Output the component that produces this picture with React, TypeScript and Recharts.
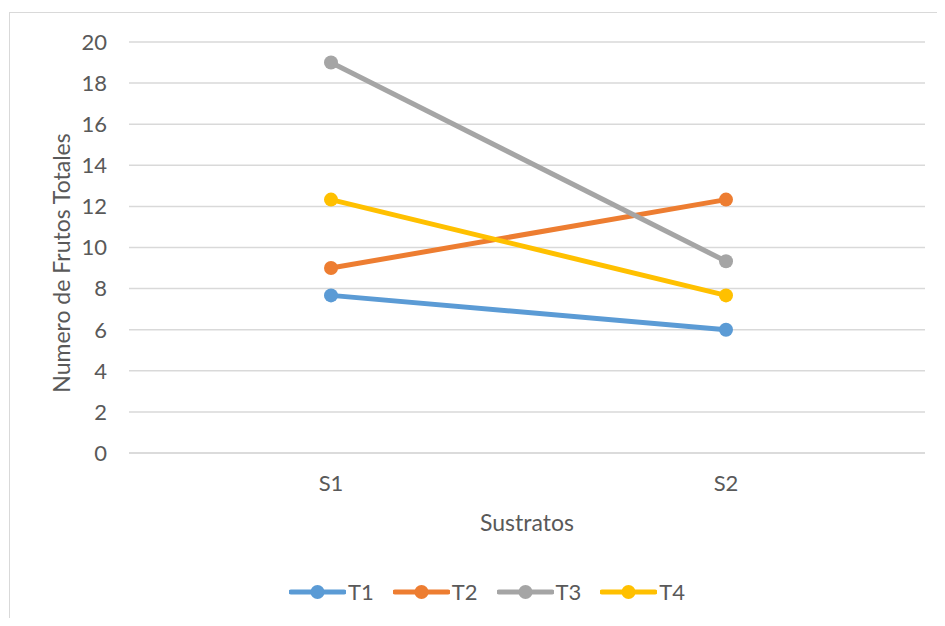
import { CartesianGrid, Label, Line, LineChart, XAxis, YAxis } from 'recharts'

const sustratos = ['S1', 'S2']
const t1 = [7.67, 6]
const t2 = [9, 12.33]
const t3 = [19, 9.33]
const t4 = [12.33, 7.67]
const yTicks = [0, 2, 4, 6, 8, 10, 12, 14, 16, 18, 20]

const series = [
  { key: 'T1', color: '#5B9BD5' },
  { key: 'T2', color: '#ED7D31' },
  { key: 'T3', color: '#A5A5A5' },
  { key: 'T4', color: '#FFC000' }
]

const data = sustratos.map((name, i) => ({ name, T1: t1[i], T2: t2[i], T3: t3[i], T4: t4[i] }))

const font = 'Lato, "Open Sans", sans-serif'
const textColor = '#595959'

const LegendBox = () => (
  <div
    style={{
      position: 'absolute',
      left: 289,
      top: 578,
      display: 'flex',
      alignItems: 'center',
      fontFamily: font,
      fontSize: 22,
      color: textColor
    }}
  >
    {series.map((s) => (
      <div key={s.key} style={{ display: 'flex', alignItems: 'center', marginRight: 19 }}>
        <svg width={57} height={16}>
          <line x1={2} y1={8} x2={55} y2={8} stroke={s.color} strokeWidth={5} strokeLinecap="round" />
          <circle cx={28.5} cy={8} r={7} fill={s.color} />
        </svg>
        <span style={{ marginLeft: 2 }}>{s.key}</span>
      </div>
    ))}
  </div>
)

const App = () => {
  return (
    <div style={{ position: 'relative', margin: -8, width: 945, height: 626, overflow: 'hidden', background: '#fff' }}>
      <div
        style={{
          position: 'absolute',
          left: 9,
          top: 12,
          width: 1000,
          height: 700,
          borderTop: '1.5px solid #d9d9d9',
          borderLeft: '1.5px solid #d9d9d9'
        }}
      />
      <LineChart width={945} height={626} data={data} margin={{ top: 42, right: 20, left: 0, bottom: 113 }} style={{ position: 'absolute', left: 0, top: 0 }}>
        <CartesianGrid vertical={false} stroke="#d9d9d9" strokeWidth={1.5} />
        <XAxis
          dataKey="name"
          height={60}
          padding={{ left: 202, right: 199 }}
          axisLine={{ stroke: '#d9d9d9', strokeWidth: 1.5 }}
          tickLine={false}
          tickSize={0}
          tickMargin={22}
          tick={{ fill: textColor, fontSize: 22, fontFamily: font }}
        >
          <Label
            content={() => (
              <text x={527} y={531} textAnchor="middle" fill={textColor} fontSize={23} fontFamily={font}>
                Sustratos
              </text>
            )}
          />
        </XAxis>
        <YAxis
          width={129}
          domain={[0, 20]}
          ticks={yTicks}
          interval={0}
          axisLine={false}
          tickLine={false}
          tickSize={0}
          tickMargin={22}
          tick={{ fill: textColor, fontSize: 22, fontFamily: font }}
        >
          <Label
            content={() => (
              <text x={70} y={263} transform="rotate(-90 70 263)" textAnchor="middle" fill={textColor} fontSize={23} fontFamily={font}>
                Numero de Frutos Totales
              </text>
            )}
          />
        </YAxis>
        {series.map((s) => (
          <Line
            key={s.key}
            dataKey={s.key}
            stroke={s.color}
            strokeWidth={5}
            dot={{ r: 7, fill: s.color, stroke: s.color, strokeWidth: 0 }}
            activeDot={false}
            isAnimationActive={false}
          />
        ))}
      </LineChart>
      <LegendBox />
    </div>
  )
}

export default App
